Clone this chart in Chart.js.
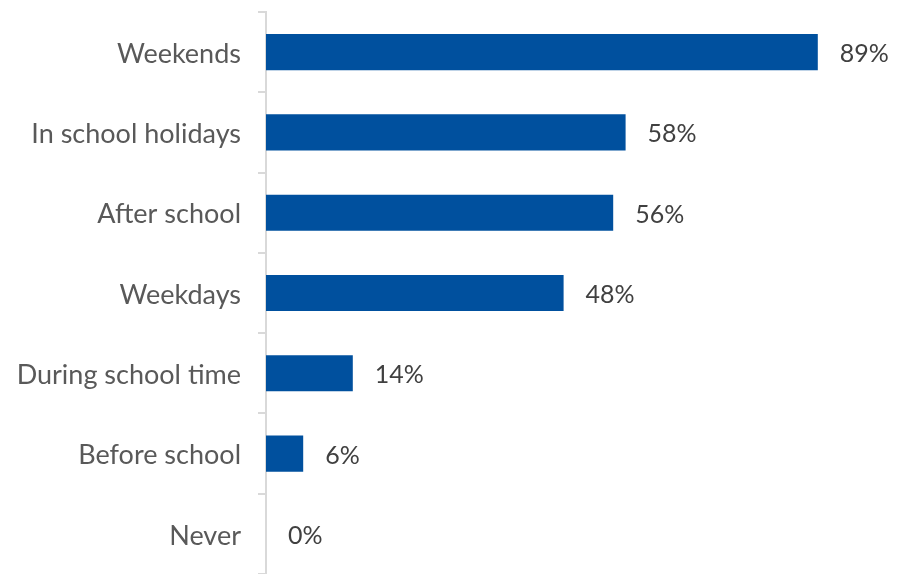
<!DOCTYPE html>
<html>
<head>
<meta charset="utf-8">
<script src="https://cdn.jsdelivr.net/npm/chart.js@4"></script>
<style>
html,body{margin:0;padding:0;background:#fff;}
#wrap{width:898px;height:574px;position:relative;}
</style>
</head>
<body>
<div id="wrap"><canvas id="c" width="898" height="574"></canvas></div>
<script>
const categories = ["Weekends","In school holidays","After school","Weekdays","During school time","Before school","Never"];
const percentValues = [89, 58, 56, 48, 14, 6, 0];
const xTickRange = [0, 100];

const FONT = "Lato, 'Open Sans', sans-serif";

const valueLabels = {
  id: 'valueLabels',
  afterDatasetsDraw(chart) {
    const ctx = chart.ctx;
    const meta = chart.getDatasetMeta(0);
    ctx.save();
    ctx.font = "25px " + FONT;
    ctx.fillStyle = "#404040";
    ctx.textAlign = "left";
    ctx.textBaseline = "middle";
    meta.data.forEach((bar, i) => {
      ctx.fillText(percentValues[i] + "%", bar.x + 22, bar.y + 2);
    });
    ctx.restore();
  }
};

new Chart(document.getElementById('c'), {
  type: 'bar',
  data: {
    labels: categories,
    datasets: [{
      data: percentValues,
      backgroundColor: '#00509E',
      borderWidth: 0,
      barPercentage: 0.45,
      categoryPercentage: 1
    }]
  },
  options: {
    indexAxis: 'y',
    responsive: false,
    animation: false,
    devicePixelRatio: 1,
    layout: { padding: { top: 12, right: 12, bottom: 0, left: 0 } },
    plugins: { legend: { display: false }, tooltip: { enabled: false } },
    scales: {
      x: { display: false, min: xTickRange[0], max: xTickRange[1] },
      y: {
        afterFit(scale) { scale.width = 266; scale.paddingTop = 0; scale.paddingBottom = 0; },
        grid: { drawOnChartArea: false, drawTicks: true, tickLength: 8, color: '#d9d9d9', lineWidth: 2, offset: true },
        border: { color: '#d9d9d9', width: 2 },
        ticks: { color: '#595959', font: { family: FONT, size: 27 }, padding: 17, labelOffset: 2 }
      }
    }
  },
  plugins: [valueLabels]
});
</script>
</body>
</html>
